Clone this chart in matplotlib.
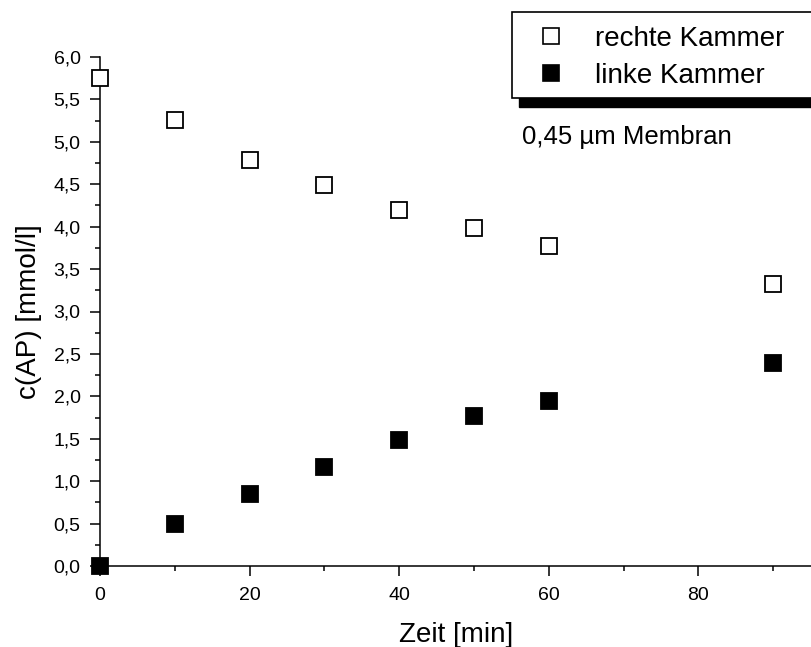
import numpy as np
import matplotlib
matplotlib.use("Agg")
import matplotlib.pyplot as plt
from matplotlib.lines import Line2D
from matplotlib.patches import Rectangle
from matplotlib.ticker import MultipleLocator, FuncFormatter

# data
zeit = [0, 10, 20, 30, 40, 50, 60, 90]  # [min]
rechte_kammer = [5.75, 5.26, 4.79, 4.49, 4.20, 3.98, 3.77, 3.33]  # [mmol/l]
linke_kammer = [0.0, 0.49, 0.85, 1.17, 1.49, 1.77, 1.94, 2.39]  # [mmol/l]
labels = ["rechte Kammer", "linke Kammer"]
annotation = "0,45 µm Membran"

W, H = 812, 647


def px(x, y):
    # pixel position (top-left origin) -> figure fraction
    return x / W, 1 - y / H


def main():
    plt.rcParams["font.family"] = ["Liberation Sans", "DejaVu Sans"]
    figure = plt.figure(figsize=(W / 100, H / 100), dpi=100, facecolor="w")
    axes = figure.add_axes([100 / W, (H - 566) / H, 712 / W, (566 - 57) / H])

    marker_style = dict(marker="s", markersize=11.5, markeredgewidth=1.3,
                        markeredgecolor="black", linestyle="none", clip_on=False, zorder=5)
    axes.plot(zeit, rechte_kammer, markerfacecolor="white", **marker_style)
    axes.plot(zeit, linke_kammer, markerfacecolor="black", **marker_style)

    axes.set_xlim(0, 95.2)
    axes.set_ylim(0, 6.0)
    axes.spines["top"].set_visible(False)
    axes.spines["right"].set_visible(False)
    for side in ("left", "bottom"):
        axes.spines[side].set_linewidth(1.1)

    axes.xaxis.set_major_locator(MultipleLocator(20))
    axes.xaxis.set_minor_locator(MultipleLocator(10))
    axes.yaxis.set_major_locator(MultipleLocator(0.5))
    axes.yaxis.set_minor_locator(MultipleLocator(0.25))
    axes.yaxis.set_major_formatter(FuncFormatter(lambda v, p: f"{v:.1f}".replace(".", ",")))
    axes.xaxis.set_major_formatter(FuncFormatter(lambda v, p: f"{v:.0f}"))

    axes.tick_params(axis="both", which="major", direction="out", length=7.5, width=1.1,
                     labelsize=14, colors="black")
    axes.tick_params(axis="both", which="minor", direction="out", length=3.8, width=1.1)
    axes.tick_params(axis="x", which="major", pad=7.5)
    axes.tick_params(axis="y", which="major", pad=6.5)

    axes.set_xlabel("Zeit [min]", fontsize=20, labelpad=13)
    axes.set_ylabel("c(AP) [mmol/l]", fontsize=20, labelpad=8)

    # legend box with heavy black shadow
    bx0, by0, bx1, by1 = 512, 12, 830, 98
    figure.add_artist(Rectangle(px(519, 107), (bx1 + 7 - 519) / W, (by1 - by0) / H,
                                transform=figure.transFigure, facecolor="black",
                                edgecolor="black", zorder=8))
    figure.add_artist(Rectangle(px(bx0, by1), (bx1 - bx0) / W, (by1 - by0) / H,
                                transform=figure.transFigure, facecolor="white",
                                edgecolor="black", linewidth=1.2, zorder=9))

    handles = [
        Line2D([], [], marker="s", markersize=11, markeredgewidth=1.2,
               markerfacecolor="white", markeredgecolor="black", linestyle="none"),
        Line2D([], [], marker="s", markersize=11, markeredgewidth=1.2,
               markerfacecolor="black", markeredgecolor="black", linestyle="none"),
    ]
    legend = figure.legend(handles, labels, loc="upper left", bbox_to_anchor=px(537, 26),
                           frameon=False, fontsize=20, handlelength=1.0,
                           handletextpad=1.1, labelspacing=0.4, borderpad=0,
                           borderaxespad=0)
    legend.set_zorder(10)

    figure.text(*px(522, 137), annotation, fontsize=18.5, va="center", ha="left")

    figure.savefig("out.png", dpi=100)


if __name__ == "__main__":
    main()
